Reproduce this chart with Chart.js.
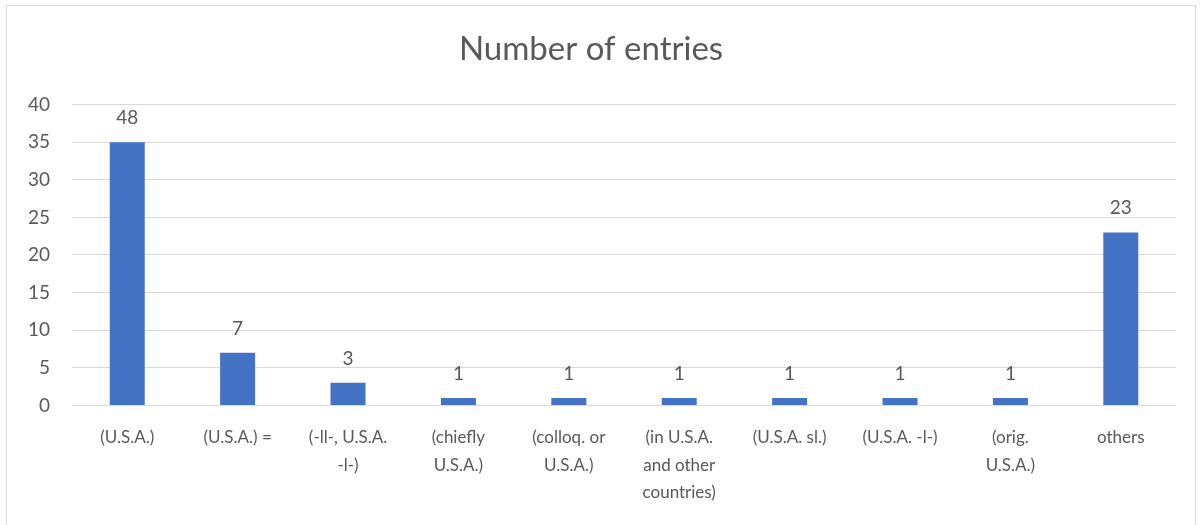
<!DOCTYPE html>
<html>
<head>
<meta charset="utf-8">
<script src="https://cdn.jsdelivr.net/npm/chart.js@4"></script>
<style>
  body { margin: 0; background: #fff; }
  #frame {
    position: absolute; left: 6px; top: 5px;
    width: 1190px; height: 540px;
    border: 1px solid #d9d9d9; box-sizing: border-box;
  }
  #wrap { position: absolute; left: 0; top: 0; width: 1203px; height: 525px; }
</style>
</head>
<body>
<div id="frame"></div>
<div id="wrap"><canvas id="chart"></canvas></div>
<script>
const categories = [
  "(U.S.A.)",
  "(U.S.A.) =",
  ["(-ll-, U.S.A.", "-l-)"],
  ["(chiefly", "U.S.A.)"],
  ["(colloq. or", "U.S.A.)"],
  ["(in U.S.A.", "and other", "countries)"],
  "(U.S.A. sl.)",
  "(U.S.A. -l-)",
  ["(orig.", "U.S.A.)"],
  "others"
];
const barValues = [35, 7, 3, 1, 1, 1, 1, 1, 1, 23];
const labelTexts = ["48", "7", "3", "1", "1", "1", "1", "1", "1", "23"];
const yTicks = [0, 5, 10, 15, 20, 25, 30, 35, 40];

const textColor = "#595959";
const fontFamily = "Lato, 'Open Sans', sans-serif";

// draw the value labels above each bar
const barLabels = {
  id: "barLabels",
  afterDatasetsDraw(chart) {
    const ctx = chart.ctx;
    const meta = chart.getDatasetMeta(0);
    ctx.save();
    ctx.fillStyle = textColor;
    ctx.font = "19px " + fontFamily;
    ctx.textAlign = "center";
    ctx.textBaseline = "alphabetic";
    meta.data.forEach((bar, i) => {
      ctx.fillText(labelTexts[i], bar.x, bar.y - 18);
    });
    ctx.restore();
  },
};

new Chart(document.getElementById("chart").getContext("2d"), {
  type: "bar",
  data: {
    labels: categories,
    datasets: [
      {
        label: "Number of entries",
        data: barValues,
        backgroundColor: "#4472c4",
        borderWidth: 0,
        categoryPercentage: 1,
        barPercentage: 0.317,
      },
    ],
  },
  options: {
    animation: false,
    responsive: true,
    maintainAspectRatio: false,
    layout: {
      padding: { left: 6, right: 27, top: 30, bottom: 0 },
    },
    scales: {
      x: {
        grid: { display: false, drawTicks: false },
        border: { display: false },
        ticks: {
          color: textColor,
          autoSkip: false,
          maxRotation: 0,
          padding: 19,
          font: { size: 17, family: fontFamily, lineHeight: 1.6 },
        },
      },
      y: {
        min: 0,
        max: 40,
        afterBuildTicks(axis) {
          axis.ticks = yTicks.map((v) => ({ value: v }));
        },
        grid: { color: "#d9d9d9", drawTicks: false },
        border: { display: false },
        ticks: {
          color: textColor,
          padding: 22,
          font: { size: 19, family: fontFamily },
        },
      },
    },
    plugins: {
      legend: { display: false },
      tooltip: { enabled: false },
      title: {
        display: true,
        text: "Number of entries",
        color: textColor,
        font: { size: 33, family: fontFamily, weight: "normal" },
        padding: { top: 0, bottom: 35 },
      },
    },
  },
  plugins: [barLabels],
});
</script>
</body>
</html>
